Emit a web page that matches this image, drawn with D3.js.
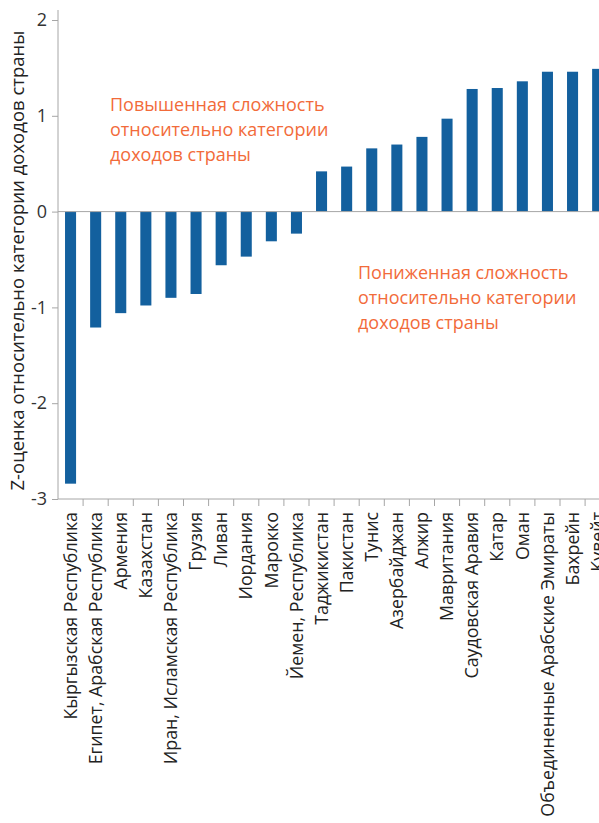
<!DOCTYPE html>
<html>
<head>
<meta charset="utf-8">
<script src="https://cdn.jsdelivr.net/npm/d3@7"></script>
<style>
  body { margin: 0; background: #fff; }
  svg { display: block; font-family: "Open Sans", sans-serif; }
</style>
</head>
<body>
<svg width="599" height="823"></svg>
<script>
// countries, sorted from lowest to highest z-score
const countries = [
  "Кыргызская Республика", "Египет, Арабская Республика", "Армения", "Казахстан",
  "Иран, Исламская Республика", "Грузия", "Ливан", "Иордания", "Марокко",
  "Йемен, Республика", "Таджикистан", "Пакистан", "Тунис", "Азербайджан",
  "Алжир", "Мавритания", "Саудовская Аравия", "Катар", "Оман",
  "Объединенные Арабские Эмираты", "Бахрейн", "Кувейт"
];
const zScores = [
  -2.84, -1.21, -1.06, -0.98, -0.90, -0.86, -0.56, -0.47, -0.31,
  -0.23, 0.42, 0.47, 0.66, 0.70, 0.78, 0.97, 1.28, 1.29, 1.36,
  1.46, 1.46, 1.49
];
const yTicks = [-3, -2, -1, 0, 1, 2];
const yTitle = "Z-оценка относительно категории доходов страны";
const noteUp = ["Повышенная сложность", "относительно категории", "доходов страны"];
const noteDown = ["Пониженная сложность", "относительно категории", "доходов страны"];

const svg = d3.select("svg");
const mLeft = 58, mTop = 20, mBottom = 499;

const x = d3.scaleBand()
  .domain(countries)
  .range([mLeft, mLeft + 22 * 25.1])
  .paddingInner(0.56)
  .paddingOuter(0.28);

const y = d3.scaleLinear()
  .domain([-3, 2])
  .range([mBottom, mTop]);

// y axis
const yAxis = svg.append("g")
  .attr("transform", `translate(${mLeft},0)`)
  .call(d3.axisLeft(y).tickValues(yTicks).tickSize(6).tickPadding(5).tickFormat(d => String(d)));
yAxis.select(".domain").attr("d", `M0,${mTop - 10}V${mBottom}`);
yAxis.selectAll("line, .domain").attr("stroke", "#a6a6a6");
yAxis.selectAll("text")
  .attr("font-size", 18)
  .attr("font-family", "Open Sans, sans-serif")
  .attr("fill", "#333");

// bottom axis with separators between categories
const sep = countries.map(c => x(c) - x.step() * 0.28);
const xAxis = svg.append("g").attr("transform", `translate(0,${mBottom})`);
xAxis.append("line")
  .attr("x1", mLeft).attr("x2", 599)
  .attr("stroke", "#a6a6a6");
xAxis.selectAll(".sep")
  .data(sep.slice(1))
  .join("line")
  .attr("x1", d => d).attr("x2", d => d)
  .attr("y1", 0).attr("y2", 7)
  .attr("stroke", "#a6a6a6");

xAxis.selectAll(".lab")
  .data(countries)
  .join("text")
  .attr("transform", d => `translate(${x(d) + x.bandwidth() / 2},13) rotate(-90)`)
  .attr("text-anchor", "end")
  .attr("dy", "0.35em")
  .attr("font-size", 17.8)
  .attr("fill", "#222")
  .text(d => d);

// bars
svg.append("g")
  .selectAll("rect")
  .data(zScores)
  .join("rect")
  .attr("x", (d, i) => x(countries[i]))
  .attr("width", x.bandwidth())
  .attr("y", d => y(Math.max(0, d)))
  .attr("height", d => Math.abs(y(d) - y(0)))
  .attr("fill", "#13609e");

// zero line
svg.append("line")
  .attr("x1", mLeft).attr("x2", 599)
  .attr("y1", y(0)).attr("y2", y(0))
  .attr("stroke", "#a6a6a6");

// y title
svg.append("text")
  .attr("transform", `translate(18,${(38 + 483) / 2}) rotate(-90)`)
  .attr("text-anchor", "middle")
  .attr("dy", "0.35em")
  .attr("font-size", 18.5)
  .attr("fill", "#222")
  .text(yTitle);

// annotations
function note(lines, x0, y0) {
  svg.append("g").selectAll("text")
    .data(lines)
    .join("text")
    .attr("x", x0)
    .attr("y", (d, i) => y0 + i * 25)
    .attr("font-size", 18)
    .attr("fill", "#f26b3a")
    .text(d => d);
}
note(noteUp, 110, 111);
note(noteDown, 358, 279);
</script>
</body>
</html>
